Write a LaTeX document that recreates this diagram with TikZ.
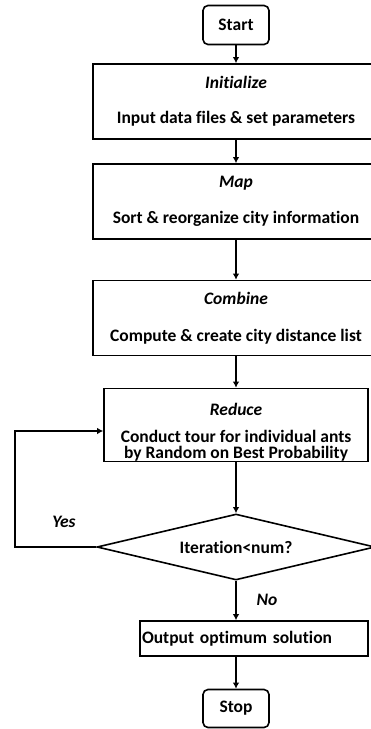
\documentclass[tikz,border=0pt]{standalone}
\usepackage{fontspec}
\setmainfont{Carlito}[RawFeature={-liga}]
\usetikzlibrary{arrows.meta,shapes.geometric}
\tikzset{
  every node/.style={font=\bfseries\fontsize{17.5}{16}\selectfont},
  term/.style={draw,line width=1.6pt,rounded corners=5pt,minimum width=66pt,minimum height=39pt,inner sep=0pt},
  proc/.style={draw,line width=1.6pt,minimum width=286pt,minimum height=75pt,align=center,inner sep=0pt},
  cond/.style={draw,line width=1.6pt,diamond,aspect=4.2,minimum width=278pt,minimum height=66pt,inner sep=0pt},
  arr/.style={line width=1.6pt,-{Latex[length=6pt,width=6.5pt]}}
}
\begin{document}
\begin{tikzpicture}[x=1pt,y=-1pt]
      \useasboundingbox (0,0) rectangle (371,729);
      \draw
        (236,25) node[term] (start){Start}
        (236,101.5) node[proc] (init){\textit{Initialize}\\[19pt]Input data files \& set parameters}
        (236,201.5) node[proc] (map){\textit{Map}\\[20pt]Sort \& reorganize city information}
        (236,318) node[proc] (comb){\textit{Combine}\\[21pt]Compute \& create city distance list}
        (236,425) node[proc,minimum width=264pt,minimum height=73pt] (red){\rule{0pt}{26pt}\textit{Reduce}\\[11pt]Conduct tour for individual ants\\by Random on Best Probability}
        (236,547) node[cond] (dec){Iteration<num?}
        (254,638.5) node[proc,minimum width=228pt,minimum height=35pt,text width=224pt,align=left] (out){Output optimum solution}
        (236,708.5) node[term,minimum height=38pt] (stop){Stop}
        (64,522) node (yes){\textit{Yes}}
        (267,600) node (no){\textit{No}};
      \begin{scope}[arr]
        \draw (start) to (init);
        \draw (init) to (map);
        \draw (map) to (comb);
        \draw (comb) to (red);
        \draw (red) to (dec);
        \draw (dec) to (dec.south |- out.north);
        \draw (out.south -| stop) to (stop);
        \draw (dec.west) -- ++(-81,0) |- ([yshift=-6pt]red.west);
      \end{scope}
    \end{tikzpicture}
\end{document}
